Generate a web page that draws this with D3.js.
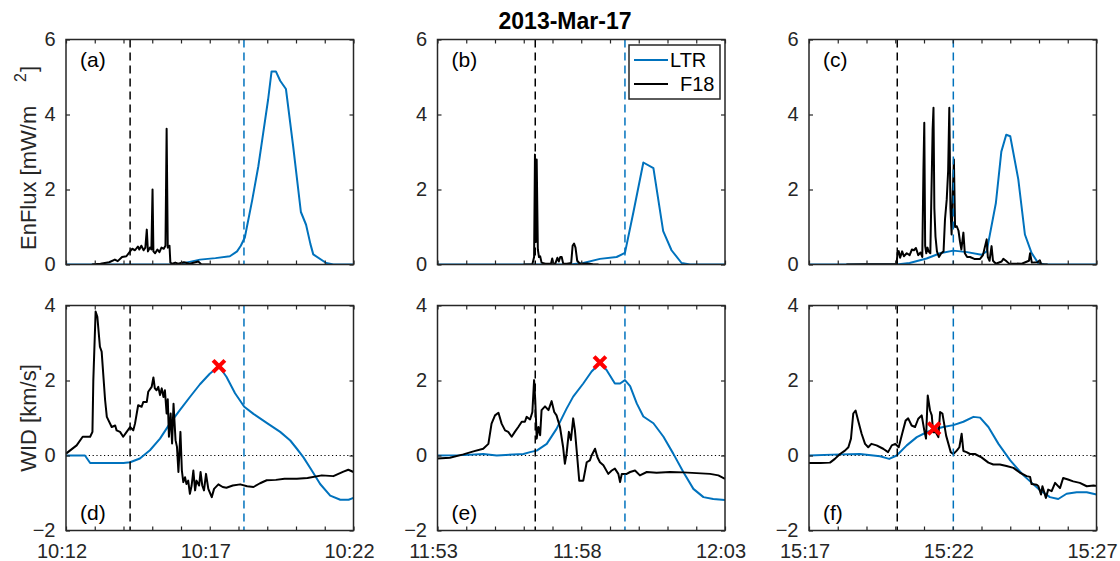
<!DOCTYPE html>
<html><head><meta charset="utf-8">
<script src="https://cdn.jsdelivr.net/npm/d3@7"></script>
<style>
body{margin:0;background:#fff}
svg{display:block}
text{font-family:"Liberation Sans",Arial,Helvetica,sans-serif}
</style>
</head><body>
<svg id="chart" width="1120" height="561"></svg>
<script>
// ---------- data (time in minutes after each panel's start time) ----------
const chartTitle = "2013-Mar-17";
const seriesNames = ["LTR", "F18"];
const panelLetters = [["(a)", "(b)", "(c)"], ["(d)", "(e)", "(f)"]];
const xTickLabels = [["10:12", "10:17", "10:22"], ["11:53", "11:58", "12:03"], ["15:17", "15:22", "15:27"]];
const minuteTicks = [0, 1, 2, 3, 4, 5, 6, 7, 8, 9, 10];
const labelledMinutes = [0, 5, 10];
const fluxTicks = [0, 2, 4, 6];
const widTicks = [-2, 0, 2, 4];
const f18Onset = [2.23, 3.40, 3.07];   // black dashed lines
const ltrOnset = [6.19, 6.52, 5.02];   // blue dashed lines
const peakT = [5.32, 5.65, 4.35];      // red markers
const peakV = [2.38, 2.48, 0.72];

const ltrFluxA = [[0,0],[3.85,0],[4.3,0.07],[4.66,0.13],[5.2,0.17],[5.7,0.22],[5.95,0.35],[6.08,0.5],[6.22,0.72],[6.48,1.73],[6.69,2.62],[6.86,3.51],[7.03,4.4],[7.15,5.15],[7.3,5.15],[7.45,4.9],[7.65,4.68],[7.9,3.16],[8.17,1.4],[8.35,1.06],[8.5,0.55],[8.6,0.27],[9.05,0.04],[9.3,0],[10,0]];
const f18FluxA = [[0.9,0],[1.2,0.02],[1.5,0.06],[1.7,0.13],[1.8,0.09],[1.95,0.2],[2.1,0.22],[2.23,0.35],[2.3,0.42],[2.4,0.38],[2.5,0.48],[2.55,0.4],[2.62,0.5],[2.7,0.38],[2.76,0.45],[2.81,0.93],[2.85,0.35],[2.92,0.45],[2.97,0.4],[3.01,2.0],[3.04,0.35],[3.1,0.3],[3.18,0.4],[3.25,0.33],[3.32,0.45],[3.4,0.42],[3.46,0.5],[3.5,3.62],[3.54,0.45],[3.6,0.5],[3.63,0.05],[3.7,0.02],[3.8,0.05],[3.9,0.02],[4.1,0.06],[4.3,0.02],[4.6,0.08],[4.7,0.01],[5.0,0]];
const ltrFluxB = [[0,0],[4.6,0],[5.07,0.04],[5.65,0.15],[6.23,0.2],[6.52,0.31],[6.81,1.38],[7.16,2.72],[7.51,2.57],[7.85,0.89],[8.14,0.38],[8.49,0.04],[8.78,0],[10,0]];
const f18FluxB = [[3.0,0],[3.3,0.01],[3.36,0.2],[3.39,2.93],[3.42,0.6],[3.45,2.8],[3.49,0.4],[3.53,0.2],[3.57,0.22],[3.62,0.05],[3.75,0.02],[3.95,0.03],[3.99,0.16],[4.03,0.02],[4.1,0.03],[4.17,0.18],[4.22,0.08],[4.27,0.2],[4.32,0.2],[4.37,0.03],[4.5,0.02],[4.65,0.04],[4.7,0.5],[4.75,0.56],[4.8,0.45],[4.86,0.1],[4.95,0.02],[5.2,0.03],[5.4,0.01],[5.6,0]];
const ltrFluxC = [[0,0],[3.05,0],[3.5,0.04],[4.09,0.16],[4.56,0.3],[5.02,0.37],[5.5,0.33],[6.0,0.26],[6.18,0.35],[6.5,1.64],[6.69,3.01],[6.86,3.46],[7.0,3.42],[7.28,2.27],[7.51,0.8],[7.74,0.31],[7.97,0.04],[8.2,0],[10,0]];
const f18FluxC = [[1.3,0],[2.0,0.01],[3.0,0.01],[3.05,0.05],[3.08,0.31],[3.12,0.36],[3.17,0.18],[3.24,0.35],[3.3,0.22],[3.4,0.3],[3.5,0.25],[3.58,0.4],[3.65,0.38],[3.72,0.44],[3.8,0.25],[3.88,0.32],[3.94,0.2],[3.98,2.5],[4.01,3.78],[4.04,0.5],[4.08,0.3],[4.12,0.45],[4.16,0.35],[4.22,0.3],[4.3,3.6],[4.33,4.18],[4.36,1.5],[4.4,0.74],[4.45,0.35],[4.52,0.2],[4.6,0.3],[4.68,0.35],[4.73,1.2],[4.79,1.73],[4.84,2.5],[4.88,4.18],[4.92,1.5],[4.96,0.8],[5.0,1.9],[5.04,2.8],[5.08,1.0],[5.14,1.02],[5.2,0.9],[5.25,0.62],[5.3,0.4],[5.37,0.85],[5.42,0.3],[5.5,0.2],[5.6,0.2],[5.75,0.15],[5.95,0.15],[6.05,0.25],[6.18,0.67],[6.22,0.2],[6.28,0.1],[6.35,0.49],[6.4,0.1],[6.5,0.02],[6.7,0.08],[6.76,0.15],[6.85,0.1],[6.95,0.03],[7.4,0.02],[7.65,0.1],[7.69,0.3],[7.75,0.05],[7.95,0.06],[8.03,0.11],[8.08,0.0],[8.3,0]];

const ltrWidA = [[0,0],[0.66,0],[0.84,-0.2],[2.0,-0.2],[2.23,-0.18],[2.57,-0.08],[2.92,0.14],[3.27,0.45],[3.61,0.85],[3.96,1.21],[4.31,1.56],[4.66,1.9],[5.0,2.18],[5.32,2.38],[5.58,2.1],[5.88,1.66],[6.2,1.3],[6.52,1.11],[6.98,0.87],[7.45,0.63],[7.8,0.4],[8.03,0.18],[8.26,-0.05],[8.55,-0.4],[8.84,-0.76],[9.19,-1.07],[9.54,-1.18],[9.83,-1.18],[10,-1.13]];
const f18WidA = [[0,0.05],[0.37,0.27],[0.58,0.5],[0.84,0.5],[0.92,0.63],[0.95,2.0],[1.03,3.84],[1.09,3.7],[1.18,2.9],[1.24,2.77],[1.36,1.48],[1.42,1.03],[1.59,0.76],[1.71,0.8],[1.76,0.67],[1.88,0.63],[1.99,0.5],[2.11,0.63],[2.23,0.76],[2.34,0.67],[2.4,0.85],[2.51,1.34],[2.63,1.3],[2.69,1.43],[2.81,1.43],[2.86,1.7],[2.98,1.83],[3.04,2.08],[3.09,1.79],[3.15,1.74],[3.21,1.83],[3.27,1.61],[3.33,1.79],[3.39,1.56],[3.44,1.74],[3.5,1.12],[3.54,1.5],[3.58,0.5],[3.64,1.12],[3.69,0.32],[3.74,1.38],[3.81,0.41],[3.86,0.23],[3.91,-0.44],[3.98,0.63],[4.03,-0.4],[4.08,-0.71],[4.14,-0.58],[4.19,-0.76],[4.25,-0.67],[4.31,-1.02],[4.37,-0.8],[4.43,-0.4],[4.49,-0.93],[4.54,-0.67],[4.63,-0.8],[4.68,-0.44],[4.74,-0.8],[4.8,-0.93],[4.87,-0.49],[4.95,-0.89],[5.07,-1.11],[5.15,-0.89],[5.3,-0.77],[5.45,-0.84],[5.58,-0.86],[5.8,-0.8],[6.06,-0.77],[6.3,-0.82],[6.52,-0.84],[6.75,-0.74],[6.98,-0.66],[7.3,-0.65],[7.6,-0.62],[8.03,-0.62],[8.4,-0.6],[8.9,-0.53],[9.3,-0.55],[9.65,-0.43],[9.82,-0.38],[10,-0.44]];
const ltrWidB = [[0,0],[0.9,0.01],[1.59,0.04],[2.06,0.0],[2.99,0.04],[3.22,0.09],[3.45,0.13],[3.8,0.31],[4.14,0.71],[4.49,1.25],[4.72,1.57],[5.07,1.92],[5.36,2.24],[5.65,2.46],[5.88,2.28],[6.17,1.92],[6.35,1.92],[6.52,2.01],[6.7,1.85],[6.93,1.39],[7.16,1.04],[7.51,0.86],[7.86,0.5],[8.2,0.05],[8.55,-0.44],[8.9,-0.89],[9.25,-1.11],[9.59,-1.16],[10,-1.19]];
const f18WidB = [[0,-0.08],[0.43,-0.06],[0.9,0.03],[1.25,0.11],[1.59,0.18],[1.77,0.31],[1.88,0.85],[2.0,1.07],[2.12,1.14],[2.23,0.85],[2.35,0.67],[2.46,0.63],[2.58,0.5],[2.69,0.63],[2.81,0.76],[2.93,0.9],[3.04,0.9],[3.1,1.03],[3.22,0.96],[3.3,1.16],[3.36,2.01],[3.4,1.48],[3.45,0.45],[3.51,0.76],[3.57,0.54],[3.62,1.21],[3.74,1.31],[3.86,1.21],[3.97,1.45],[4.06,1.16],[4.14,1.07],[4.26,0.76],[4.37,0.22],[4.43,-0.22],[4.49,0.05],[4.57,0.63],[4.64,0.41],[4.72,0.99],[4.78,0.67],[4.84,0.14],[4.93,-0.67],[5.07,-0.67],[5.19,-0.18],[5.3,-0.13],[5.36,0.0],[5.48,0.18],[5.56,-0.04],[5.65,-0.18],[5.77,-0.26],[5.94,-0.49],[6.06,-0.4],[6.17,-0.35],[6.29,-0.49],[6.35,-0.71],[6.41,-0.49],[6.58,-0.49],[6.7,-0.44],[6.87,-0.4],[7.04,-0.53],[7.28,-0.44],[7.62,-0.46],[8.09,-0.44],[8.55,-0.45],[9.01,-0.47],[9.48,-0.49],[9.77,-0.53],[10,-0.62]];
const ltrWidC = [[0,0],[1.08,0.03],[1.77,0.04],[2.47,-0.02],[2.79,-0.09],[3.05,0.0],[3.4,0.27],[3.75,0.49],[4.09,0.62],[4.36,0.7],[4.67,0.76],[5.02,0.81],[5.37,0.9],[5.72,1.03],[5.95,1.01],[6.24,0.76],[6.59,0.31],[7.0,-0.13],[7.46,-0.53],[7.98,-0.89],[8.38,-1.11],[8.67,-1.16],[8.96,-1.02],[9.31,-0.98],[9.66,-0.98],[10,-1.04]];
const f18WidC = [[0,-0.2],[0.4,-0.2],[0.73,-0.19],[0.9,-0.09],[1.08,0.04],[1.25,0.13],[1.37,0.22],[1.46,0.45],[1.54,1.12],[1.62,1.2],[1.72,0.9],[1.83,0.58],[1.95,0.31],[2.06,0.22],[2.17,0.31],[2.35,0.27],[2.58,0.18],[2.75,0.09],[2.88,0.27],[3.0,0.31],[3.12,0.22],[3.24,0.58],[3.36,0.93],[3.45,0.99],[3.57,0.8],[3.69,0.76],[3.8,0.98],[3.92,1.07],[4.01,0.67],[4.07,0.45],[4.13,1.6],[4.21,1.2],[4.27,1.07],[4.32,0.62],[4.41,0.62],[4.5,0.49],[4.56,1.16],[4.64,1.12],[4.7,0.85],[4.77,0.53],[4.85,0.31],[4.93,0.09],[5.02,0.04],[5.14,0.13],[5.23,0.22],[5.31,0.58],[5.37,0.12],[5.48,0.09],[5.6,0.04],[5.77,0.04],[6.0,-0.05],[6.24,-0.19],[6.41,-0.24],[6.64,-0.24],[6.87,-0.28],[7.11,-0.33],[7.34,-0.46],[7.57,-0.55],[7.69,-0.57],[7.74,-0.76],[7.92,-0.78],[7.98,-0.82],[8.07,-1.04],[8.12,-0.82],[8.24,-1.13],[8.32,-0.91],[8.44,-0.95],[8.56,-0.73],[8.73,-0.87],[8.84,-0.6],[9.01,-0.64],[9.19,-0.69],[9.42,-0.73],[9.66,-0.82],[9.9,-0.8],[10,-0.81]];

const ltrFlux = [ltrFluxA, ltrFluxB, ltrFluxC];
const f18Flux = [f18FluxA, f18FluxB, f18FluxC];
const ltrWid = [ltrWidA, ltrWidB, ltrWidC];
const f18Wid = [f18WidA, f18WidB, f18WidC];

// ---------- layout ----------
const BLUE = "#0072BD", AX = "#262626";
const colX = [66, 437.5, 809], rowY = [39.5, 305.5], W = 287.5, H = 225;
const svg = d3.select("#chart");
svg.append("defs").append("clipPath").attr("id", "clip")
  .append("rect").attr("x", 0).attr("y", 0).attr("width", W).attr("height", H);

const x = d3.scaleLinear().domain([0, 10]).range([0, W]);
const yFlux = d3.scaleLinear().domain([0, 6]).range([H, 0]);
const yWid = d3.scaleLinear().domain([-2, 4]).range([H, 0]);

function styleAxis(sel) {
  sel.select(".domain").remove();
  sel.selectAll(".tick line").attr("stroke", AX).attr("stroke-width", 1.2);
  sel.selectAll(".tick text").attr("fill", AX).style("font-size", "20px")
     .style("font-family", '"Liberation Sans",Arial,Helvetica,sans-serif');
}

for (let r = 0; r < 2; r++) {
  for (let c = 0; c < 3; c++) {
    const y = r === 0 ? yFlux : yWid;
    const yT = r === 0 ? fluxTicks : widTicks;
    const ltr = r === 0 ? ltrFlux[c] : ltrWid[c];
    const f18 = r === 0 ? f18Flux[c] : f18Wid[c];
    const g = svg.append("g").attr("transform", `translate(${colX[c]},${rowY[r]})`);
    const plot = g.append("g").attr("clip-path", "url(#clip)");

    if (r === 1) {
      plot.append("line").attr("x1", 0).attr("x2", W).attr("y1", y(0)).attr("y2", y(0))
        .attr("stroke", "#000").attr("stroke-width", 1).attr("stroke-dasharray", "1.2,2.6");
    }
    const line = d3.line().x(d => x(d[0])).y(d => y(d[1]));
    plot.append("path").datum(ltr).attr("d", line).attr("fill", "none")
      .attr("stroke", BLUE).attr("stroke-width", 2).attr("stroke-linejoin", "round");
    plot.append("path").datum(f18).attr("d", line).attr("fill", "none")
      .attr("stroke", "#000").attr("stroke-width", 2).attr("stroke-linejoin", "round");

    plot.append("line").attr("x1", x(f18Onset[c])).attr("x2", x(f18Onset[c]))
      .attr("y1", 0).attr("y2", H).attr("stroke", "#000").attr("stroke-width", 1.5)
      .attr("stroke-dasharray", "8,5");
    plot.append("line").attr("x1", x(ltrOnset[c])).attr("x2", x(ltrOnset[c]))
      .attr("y1", 0).attr("y2", H).attr("stroke", BLUE).attr("stroke-width", 1.5)
      .attr("stroke-dasharray", "8,5");

    if (r === 1) {
      const mx = x(peakT[c]), my = y(peakV[c]), s = 4.5;
      g.append("path")
        .attr("d", `M${mx - s},${my - s}L${mx + s},${my + s}M${mx - s},${my + s}L${mx + s},${my - s}`)
        .attr("stroke", "#ff0000").attr("stroke-width", 4).attr("stroke-linecap", "square");
    }

    // axes (ticks inside on all four sides)
    const bottom = d3.axisBottom(x).tickValues(minuteTicks).tickSizeInner(-4).tickSizeOuter(0)
      .tickPadding(13.5)
      .tickFormat(d => (r === 1 && labelledMinutes.includes(d)) ? xTickLabels[c][labelledMinutes.indexOf(d)] : "");
    const bAx = g.append("g").attr("transform", `translate(0,${H})`).call(bottom).call(styleAxis);
    bAx.selectAll(".tick text").attr("dx", -4.5);
    g.append("g").call(d3.axisTop(x).tickValues(minuteTicks).tickSizeInner(-4).tickSizeOuter(0).tickFormat("")).call(styleAxis);
    g.append("g").call(d3.axisLeft(y).tickValues(yT).tickSizeInner(-4).tickSizeOuter(0).tickPadding(10.5)
      .tickFormat(d3.format("d"))).call(styleAxis);
    g.append("g").attr("transform", `translate(${W},0)`)
      .call(d3.axisRight(y).tickValues(yT).tickSizeInner(-4).tickSizeOuter(0).tickFormat("")).call(styleAxis);

    g.append("rect").attr("x", 0).attr("y", 0).attr("width", W).attr("height", H)
      .attr("fill", "none").attr("stroke", AX).attr("stroke-width", 1.5);

    g.append("text").attr("x", 14).attr("y", r === 0 ? 27.5 : 214.5)
      .attr("fill", "#000").style("font-size", "21px").text(panelLetters[r][c]);
  }
}

// legend in panel (b)
const lg = svg.append("g");
lg.append("rect").attr("x", 629).attr("y", 45).attr("width", 91).attr("height", 54)
  .attr("fill", "#fff").attr("stroke", AX).attr("stroke-width", 1.5);
[[seriesNames[0], BLUE, 60, 670], [seriesNames[1], "#000", 84, 680]].forEach(([name, col, ly, tx]) => {
  lg.append("line").attr("x1", 634).attr("x2", 668).attr("y1", ly).attr("y2", ly)
    .attr("stroke", col).attr("stroke-width", 2);
  lg.append("text").attr("x", tx).attr("y", ly + 7).attr("fill", "#000")
    .style("font-size", "20px").text(name);
});

// title
svg.append("text").attr("x", 565).attr("y", 29).attr("text-anchor", "middle")
  .style("font-size", "23px").style("font-weight", "bold").attr("fill", "#000").text(chartTitle);

// y labels
const yl1 = svg.append("text").attr("transform", "translate(36,250) rotate(-90)")
  .attr("fill", AX).style("font-size", "22px");
yl1.append("tspan").attr("x", 0).attr("y", 0).text("EnFlux [mW/m");
yl1.append("tspan").attr("x", 168).attr("y", -10).style("font-size", "16px").text("2");
yl1.append("tspan").attr("x", 178).attr("y", 0).text("]");

svg.append("text").attr("transform", `translate(36,${rowY[1] + H / 2}) rotate(-90)`)
  .attr("text-anchor", "middle").attr("fill", AX).style("font-size", "22px").text("WID [km/s]");
</script>
</body></html>
